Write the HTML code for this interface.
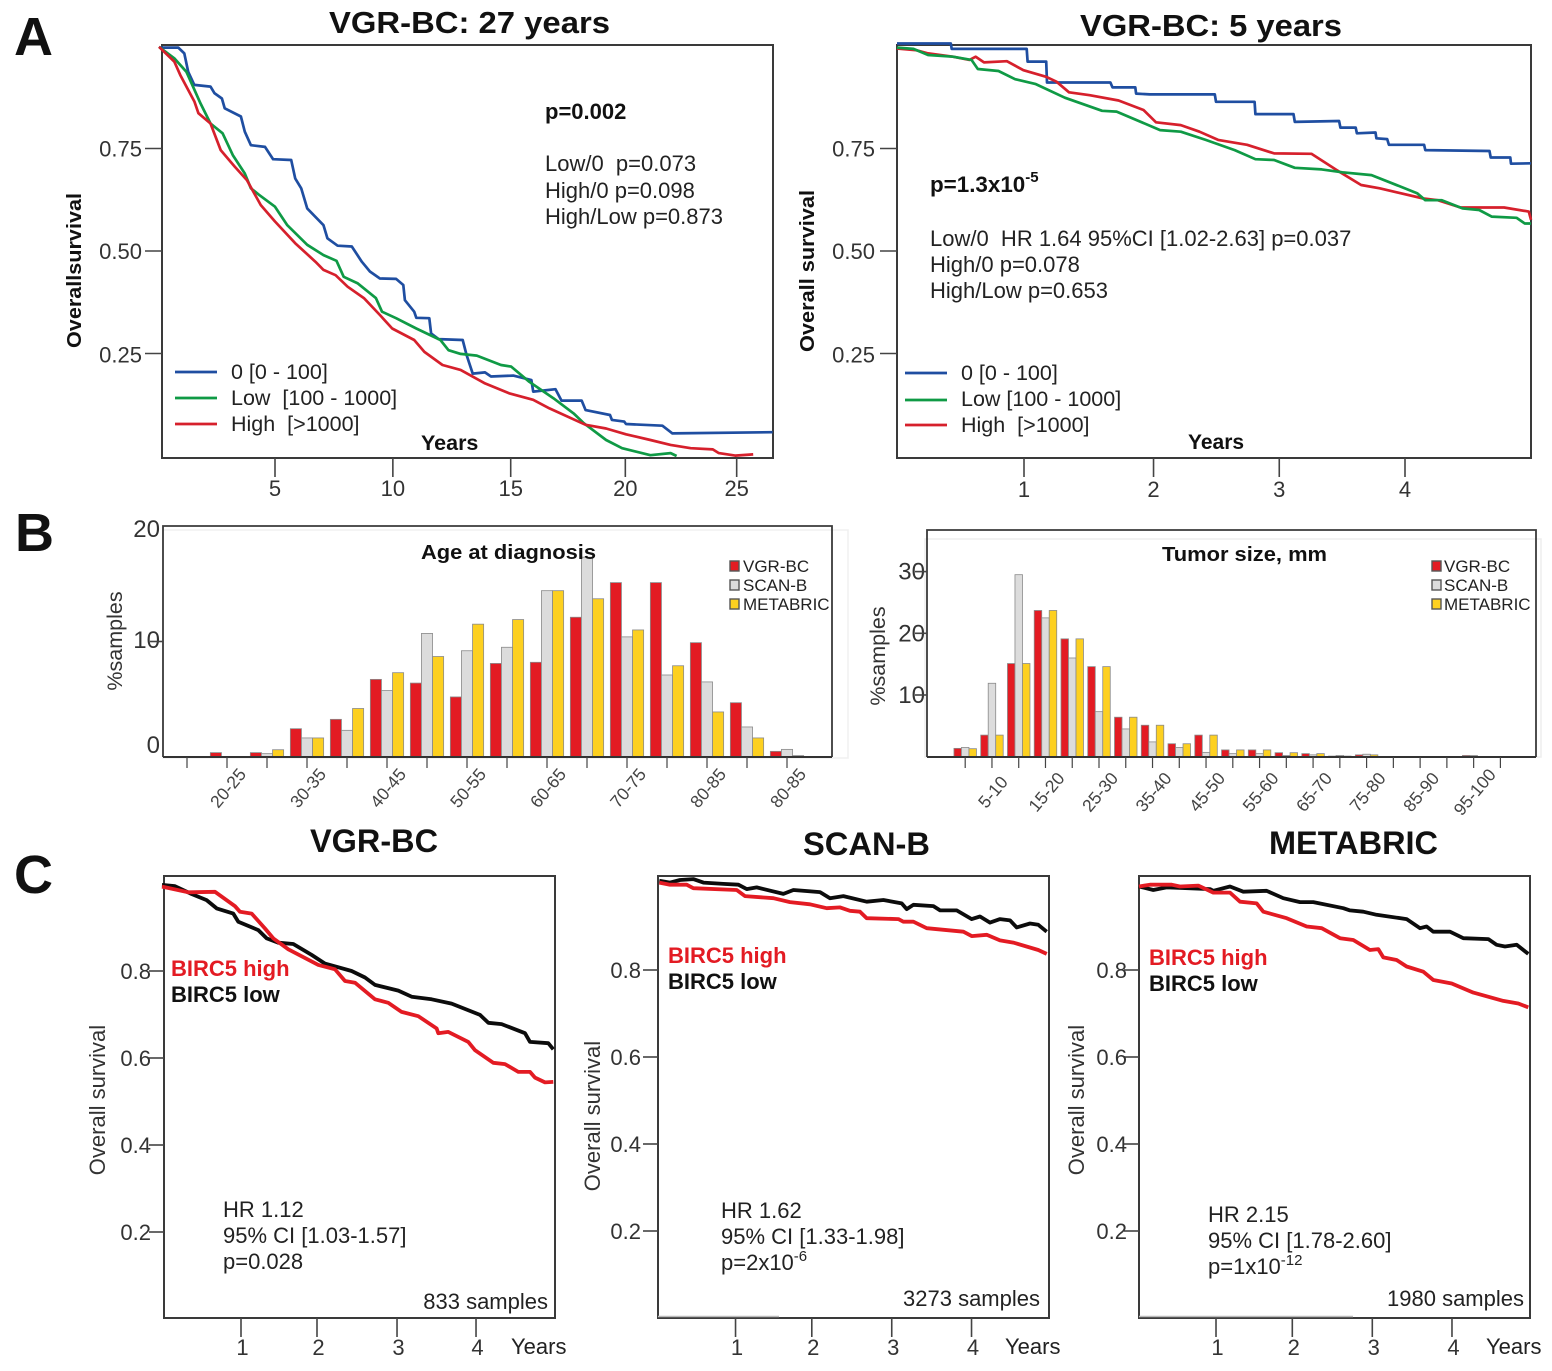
<!DOCTYPE html>
<html lang="en">
<head>
<meta charset="utf-8">
<title>BIRC5 survival figure</title>
<style>
html,body{margin:0;padding:0;background:#fff;}
svg{display:block;font-family:"Liberation Sans",sans-serif;fill:#222;}
.b{font-weight:bold;fill:#111;}
.t{font-size:22px;}
.l{font-size:21.5px;}
.tk{font-size:22px;fill:#333;}
.rot{font-size:17.5px;fill:#444;}
.leg{font-size:17px;fill:#222;}
</style>
</head>
<body>
<svg id="fig" width="1552" height="1371" viewBox="0 0 1552 1371" xmlns="http://www.w3.org/2000/svg">
<rect width="1552" height="1371" fill="#fff"/>

<text x="14" y="55" class="b" style="font-size:54px">A</text>
<text x="15" y="551" class="b" style="font-size:54px">B</text>
<text x="14" y="893" class="b" style="font-size:54px">C</text>

<!-- titles -->
<text x="329" y="33" class="b" style="font-size:31px" textLength="281" lengthAdjust="spacingAndGlyphs">VGR-BC: 27 years</text>
<text x="1080" y="36" class="b" style="font-size:31px" textLength="262" lengthAdjust="spacingAndGlyphs">VGR-BC: 5 years</text>

<!-- backdrop shading of panel B -->
<rect x="163" y="530" width="685" height="228" fill="none" stroke="#f0f0f0" stroke-width="1.5"/>
<rect x="925" y="539" width="616" height="218" fill="none" stroke="#eeeeee" stroke-width="1.5"/>

<g id="marks"></g>

<!-- A left text -->
<text transform="translate(81,270.5) rotate(-90)" x="0" y="0" class="b" style="font-size:20px" textLength="155" lengthAdjust="spacingAndGlyphs" text-anchor="middle">Overallsurvival</text>
<text x="545" y="119" class="b" style="font-size:22px">p=0.002</text>
<text x="545" y="171" class="t" xml:space="preserve">Low/0  p=0.073</text>
<text x="545" y="198" class="t">High/0 p=0.098</text>
<text x="545" y="224" class="t">High/Low p=0.873</text>
<text x="421" y="450" class="b" style="font-size:21.5px">Years</text>
<text x="231" y="379" class="l">0 [0 - 100]</text>
<text x="231" y="405" class="l" xml:space="preserve">Low  [100 - 1000]</text>
<text x="231" y="431" class="l" xml:space="preserve">High  [&gt;1000]</text>

<!-- A right text -->
<text x="807" y="271" class="b" transform="rotate(-90 807 271)" text-anchor="middle" dy="7" style="font-size:20px" textLength="162" lengthAdjust="spacingAndGlyphs">Overall survival</text>
<text x="930" y="192" class="b" style="font-size:22.4px">p=1.3x10<tspan dy="-10" style="font-size:15px">-5</tspan></text>
<text x="930" y="246" class="t" xml:space="preserve">Low/0  HR 1.64 95%CI [1.02-2.63] p=0.037</text>
<text x="930" y="272" class="t">High/0 p=0.078</text>
<text x="930" y="298" class="t">High/Low p=0.653</text>
<text x="1188" y="449" class="b" style="font-size:21px">Years</text>
<text x="961" y="380" class="l">0 [0 - 100]</text>
<text x="961" y="406" class="l" xml:space="preserve">Low [100 - 1000]</text>
<text x="961" y="432" class="l" xml:space="preserve">High  [&gt;1000]</text>

<!-- B text -->
<text x="122" y="641" transform="rotate(-90 122 641)" text-anchor="middle" style="font-size:21.5px;fill:#333">%samples</text>
<text x="421" y="559" class="b" style="font-size:20.5px" textLength="175" lengthAdjust="spacingAndGlyphs">Age at diagnosis</text>
<text x="885" y="656" transform="rotate(-90 885 656)" text-anchor="middle" style="font-size:21.5px;fill:#333">%samples</text>
<text x="1162" y="561" class="b" style="font-size:20.5px" textLength="165" lengthAdjust="spacingAndGlyphs">Tumor size, mm</text>

<!-- C text -->
<text x="310" y="852" class="b" style="font-size:32px" textLength="128" lengthAdjust="spacingAndGlyphs">VGR-BC</text>
<text x="803" y="855" class="b" style="font-size:32px" textLength="127" lengthAdjust="spacingAndGlyphs">SCAN-B</text>
<text x="1269" y="854" class="b" style="font-size:32px" textLength="169" lengthAdjust="spacingAndGlyphs">METABRIC</text>

<text x="171" y="976" class="b" style="font-size:22px;fill:#e31b23">BIRC5 high</text>
<text x="171" y="1002" class="b" style="font-size:22px">BIRC5 low</text>
<text x="668" y="963" class="b" style="font-size:22px;fill:#e31b23">BIRC5 high</text>
<text x="668" y="989" class="b" style="font-size:22px">BIRC5 low</text>
<text x="1149" y="965" class="b" style="font-size:22px;fill:#e31b23">BIRC5 high</text>
<text x="1149" y="991" class="b" style="font-size:22px">BIRC5 low</text>

<text x="105" y="1100" transform="rotate(-90 105 1100)" text-anchor="middle" style="font-size:22px;fill:#333">Overall survival</text>
<text x="600" y="1116" transform="rotate(-90 600 1116)" text-anchor="middle" style="font-size:22px;fill:#333">Overall survival</text>
<text x="1084" y="1100" transform="rotate(-90 1084 1100)" text-anchor="middle" style="font-size:22px;fill:#333">Overall survival</text>

<text x="223" y="1217" class="t">HR 1.12</text>
<text x="223" y="1243" class="t">95% CI [1.03-1.57]</text>
<text x="223" y="1269" class="t">p=0.028</text>
<text x="548" y="1309" class="t" text-anchor="end">833 samples</text>
<text x="511" y="1354" class="t">Years</text>

<text x="721" y="1218" class="t">HR 1.62</text>
<text x="721" y="1244" class="t">95% CI [1.33-1.98]</text>
<text x="721" y="1270" class="t">p=2x10<tspan dy="-9" style="font-size:15px">-6</tspan></text>
<text x="1040" y="1306" class="t" text-anchor="end">3273 samples</text>
<text x="1005" y="1354" class="t">Years</text>

<text x="1208" y="1222" class="t">HR 2.15</text>
<text x="1208" y="1248" class="t">95% CI [1.78-2.60]</text>
<text x="1208" y="1274" class="t">p=1x10<tspan dy="-9" style="font-size:15px">-12</tspan></text>
<text x="1524" y="1306" class="t" text-anchor="end">1980 samples</text>
<text x="1486" y="1354" class="t">Years</text>
</svg>

<script>
// ---------- Panel A, 27-year follow-up ----------
const a27ZeroYears=[0,.83,1.09,1.26,1.52,2.22,2.39,2.71,2.83,3.53,3.70,3.96,4.57,4.92,5.70,5.87,6.13,6.39,7.09,7.26,7.70,8.31,8.74,9.09,9.52,10.22,10.53,10.60,11.0,11.09,11.65,11.73,12.05,13.09,13.26,13.52,14.05,14.31,15.27,16.05,16.13,17.09,17.35,18.22,18.39,19.44,19.52,20.05,20.13,21.70,22.13,26.45];
const a27ZeroSurv=[.996,.996,.982,.937,.905,.901,.885,.872,.848,.828,.791,.758,.754,.724,.722,.677,.653,.604,.563,.531,.513,.511,.474,.450,.433,.432,.417,.380,.352,.337,.336,.299,.285,.283,.246,.201,.204,.194,.196,.185,.157,.163,.135,.135,.112,.100,.088,.084,.078,.074,.055,.058];
const a27LowYears=[0,.66,1.18,1.53,1.79,2.22,2.74,3.18,3.70,3.96,4.31,5.0,5.53,6.39,7.09,7.65,7.96,8.57,9.35,9.61,10.22,11.09,12.13,12.48,13.0,13.70,14.74,15.18,15.96,17.0,17.87,18.31,19.27,19.96,21.18,22.05,22.31];
const a27LowSurv=[.998,.970,.937,.893,.860,.811,.787,.734,.689,.653,.637,.608,.563,.515,.490,.476,.437,.421,.385,.352,.336,.311,.283,.258,.249,.245,.222,.218,.181,.141,.104,.080,.039,.019,.002,.007,0];
const a27HighYears=[0,.66,.92,1.53,1.70,2.22,2.66,3.26,3.79,4.39,5.0,5.87,6.74,7.09,7.61,8.13,8.83,9.52,10.05,11.0,11.44,12.22,13.0,14.05,15.09,16.13,16.83,18.39,19.27,20.13,21.18,22.05,22.92,23.87,24.13,24.83,25.61];
const a27HighSurv=[.998,.962,.929,.864,.836,.811,.746,.706,.673,.612,.572,.519,.474,.454,.441,.413,.385,.344,.311,.283,.254,.222,.210,.177,.153,.137,.116,.076,.067,.053,.039,.027,.019,.016,.007,.001,.004];
const a27XTicks=[5,10.08,15.16,20.1,24.9];
const a27XLabels=['5','10','15','20','25'];
const aYTicks=[.75,.5,.25];
const aYLabels=['0.75','0.50','0.25'];

// ---------- Panel A, 5-year follow-up ----------
const a5ZeroYears=[0,.424,.431,1.021,1.028,1.175,1.181,1.680,1.697,1.876,1.883,1.990,2.502,2.512,2.816,2.822,3.122,3.132,3.481,3.491,3.612,3.621,3.768,3.775,3.860,3.873,4.150,4.160,4.665,4.675,4.829,4.835,4.992];
const a5ZeroSurv=[1.006,1.006,.993,.993,.962,.962,.911,.911,.899,.899,.884,.882,.882,.864,.864,.834,.834,.815,.817,.801,.801,.787,.789,.775,.773,.759,.759,.746,.744,.728,.728,.713,.714];
const a5LowYears=[0,.130,.245,.440,.587,.636,.799,.930,1.093,1.321,1.615,1.729,2.072,2.235,2.431,2.659,2.822,2.969,3.132,3.344,3.507,3.736,4.095,4.160,4.290,4.453,4.584,4.682,4.878,4.943,4.992];
const a5LowSurv=[.996,.993,.978,.974,.966,.944,.939,.919,.907,.874,.842,.840,.795,.791,.771,.746,.724,.722,.703,.699,.692,.685,.641,.624,.624,.604,.600,.584,.581,.567,.567];
const a5HighYears=[0,.147,.245,.440,.571,.620,.685,.865,.995,1.175,1.256,1.354,1.517,1.745,1.941,2.039,2.235,2.382,2.528,2.757,2.969,3.263,3.458,3.654,3.801,4.144,4.258,4.437,4.780,4.975,4.992];
const a5HighSurv=[.994,.990,.982,.974,.966,.974,.960,.963,.941,.925,.913,.887,.880,.867,.844,.814,.807,.791,.771,.759,.738,.737,.698,.661,.653,.628,.624,.606,.606,.596,.576];
const a5XTicks=[1,2.02,3.01,4];
const a5XLabels=['1','2','3','4'];

// ---------- Panel B, age histogram ----------
const ageCategories=['15-20','20-25','25-30','30-35','35-40','40-45','45-50','50-55','55-60','60-65','65-70','70-75','75-80','80-85','85-90'];
const ageVgr=[.38,.38,2.45,3.26,6.72,6.4,5.2,8.1,8.2,12.1,15.1,15.1,9.9,4.7,.49];
const ageScan=[0,.29,1.65,2.31,5.75,10.7,9.2,9.5,14.4,17.3,10.4,7.1,6.5,2.6,.66];
const ageMetabric=[0,.63,1.65,4.2,7.3,8.7,11.5,11.9,14.4,13.7,11.0,7.9,3.9,1.65,.12];
const ageTickLabels=['20-25','30-35','40-45','50-55','60-65','70-75','80-85','80-85'];
const ageYTicks=[20,10,0];

// ---------- Panel B, tumor size histogram ----------
const sizeCategories=['0-5','5-10','10-15','15-20','20-25','25-30','30-35','35-40','40-45','45-50','50-55','55-60','60-65','65-70','70-75','75-80','80-85','85-90','90-95','95-100','100+'];
const sizeVgr=[1.35,3.5,15.1,23.7,19.1,14.6,6.4,5.1,2.1,3.5,1.1,1.1,.65,.5,.1,.3,0,0,0,.2,0];
const sizeScan=[1.5,11.9,29.5,22.5,16.0,7.3,4.5,2.4,1.5,.7,.5,.5,.2,.3,.2,.4,0,0,0,.2,0];
const sizeMetabric=[1.3,3.5,15.1,23.7,19.1,14.6,6.4,5.1,2.1,3.5,1.1,1.1,.65,.5,.1,.3,0,0,0,0,0];
const sizeTickLabels=['5-10','15-20','25-30','35-40','45-50','55-60','65-70','75-80','85-90','95-100'];
const sizeYTicks=[30,20,10];

// ---------- Panel C ----------
const vgrLowYears=[0,.164,.375,.565,.692,.903,.966,1.219,1.325,1.472,1.662,1.894,2.063,2.400,2.569,2.696,2.991,3.160,3.413,3.666,4.025,4.130,4.299,4.595,4.658,4.890,4.953];
const vgrLowSurv=[.998,.995,.977,.963,.944,.932,.913,.894,.875,.865,.862,.837,.817,.800,.785,.768,.755,.741,.735,.725,.699,.681,.678,.657,.637,.634,.620];
const vgrHighYears=[0,.333,.671,.924,.987,1.135,1.303,1.409,1.599,1.979,2.190,2.316,2.443,2.696,2.865,3.033,3.244,3.476,3.498,3.624,3.877,3.962,4.194,4.342,4.510,4.658,4.722,4.848,4.953];
const vgrHighSurv=[.994,.981,.982,.949,.936,.932,.898,.875,.850,.814,.804,.777,.773,.735,.727,.706,.696,.668,.657,.660,.637,.618,.589,.586,.568,.568,.555,.544,.545];
const scanLowYears=[.03,.166,.294,.464,.592,.848,1.039,1.146,1.273,1.614,1.742,2.082,2.210,2.380,2.678,2.891,3.125,3.189,3.274,3.530,3.615,3.828,4.019,4.125,4.253,4.381,4.509,4.594,4.764,4.870,4.977];
const scanLowSurv=[1.005,1.001,1.007,1.009,1.001,.998,.996,.986,.990,.975,.984,.979,.965,.970,.957,.961,.953,.940,.950,.947,.937,.937,.917,.923,.909,.917,.914,.898,.907,.904,.888];
const scanHighYears=[.03,.166,.379,.464,1.018,1.124,1.486,1.699,1.954,2.167,2.338,2.465,2.593,2.678,3.083,3.146,3.274,3.444,3.913,4.019,4.211,4.381,4.551,4.870,4.977];
const scanHighSurv=[1.001,.996,.996,.988,.984,.970,.965,.956,.951,.942,.944,.936,.934,.919,.917,.911,.911,.896,.888,.878,.881,.868,.863,.846,.837];
const metaLowYears=[0,.182,.352,.904,.947,1.159,1.329,1.626,1.838,2.051,2.221,2.603,2.688,2.857,3.027,3.409,3.579,3.664,3.749,3.962,4.131,4.450,4.556,4.662,4.811,4.959];
const metaLowSurv=[.992,.984,.990,.986,.982,.992,.980,.982,.965,.956,.956,.942,.937,.934,.927,.917,.896,.900,.888,.888,.873,.871,.858,.854,.858,.837];
const metaHighYears=[0,.140,.416,.522,.755,.947,1.159,1.286,1.499,1.584,1.881,2.136,2.327,2.560,2.730,2.942,3.048,3.112,3.282,3.409,3.622,3.749,3.983,4.259,4.641,4.832,4.959];
const metaHighSurv=[.992,.996,.996,.992,.994,.978,.978,.957,.953,.934,.919,.900,.896,.873,.869,.846,.848,.829,.823,.808,.796,.777,.769,.748,.729,.723,.714];
const vgrXTicks=[1,1.962,2.975,3.975];
const scanXTicks=[1.003,1.977,2.998,4.017];
const metaXTicks=[.981,1.953,2.972,3.987];
const cXLabels=['1','2','3','4'];
const cYTicks=[.8,.6,.4,.2];
const cYLabels=['0.8','0.6','0.4','0.2'];

const SVGNS='http://www.w3.org/2000/svg';
const root=document.getElementById('marks');

function mk(tag,attrs,name){
  const el=document.createElementNS(SVGNS,tag);
  for(const k in attrs){el.setAttribute(k,attrs[k]);}
  
  
  root.appendChild(el);
  return el;
}
function line(x1,y1,x2,y2,name,color,w){
  return mk('line',{x1:x1,y1:y1,x2:x2,y2:y2,stroke:color||'#444','stroke-width':w||1.6},name);
}
function label(x,y,str,cls,anchor,name,extra){
  const el=mk('text',Object.assign({x:x,y:y,class:cls,'text-anchor':anchor},extra||{}),name);
  el.textContent=str;
  return el;
}
function frame(x,y,w,h,name){
  return mk('rect',{x:x,y:y,width:w,height:h,fill:'none',stroke:'#3a3a3a','stroke-width':2},name);
}
function curve(xs,ys,sx,sy,color,w,name){
  const pts=xs.map(function(t,i){return sx(t).toFixed(1)+','+sy(ys[i]).toFixed(1);}).join(' ');
  return mk('polyline',{points:pts,fill:'none',stroke:color,'stroke-width':w,'stroke-linejoin':'round'},name);
}

// Panel A axes
const BLUE='#1f4ea1',GREEN='#0f9a45',RED='#d6202c';
const saY=function(s){return 456-410*s;};
const a27X=function(t){return 159+23.2*t;};
const a5X=function(t){return 897+127*t;};

frame(162,45,611,413,'frame-27y');
frame(897,45,634,413,'frame-5y');

aYTicks.forEach(function(v,i){
  const dy=v===.25?9:8;
  line(145,saY(v),162,saY(v),'y-tick-27y');
  label(142,saY(v)+dy,aYLabels[i],'tk','end','y-tick-label-27y');
  line(880,saY(v),897,saY(v),'y-tick-5y');
  label(875,saY(v)+dy,aYLabels[i],'tk','end','y-tick-label-5y');
});
a27XTicks.forEach(function(v,i){
  line(a27X(v),458,a27X(v),477,'x-tick-27y');
  label(a27X(v),496,a27XLabels[i],'tk','middle','x-tick-label-27y');
});
a5XTicks.forEach(function(v,i){
  line(a5X(v),458,a5X(v),477,'x-tick-5y');
  label(a5X(v),497,a5XLabels[i],'tk','middle','x-tick-label-5y');
});
curve(a27ZeroYears,a27ZeroSurv,a27X,saY,BLUE,2.7,'curve-zero-27y');
curve(a27LowYears,a27LowSurv,a27X,saY,GREEN,2.7,'curve-low-27y');
curve(a27HighYears,a27HighSurv,a27X,saY,RED,2.7,'curve-high-27y');
curve(a5ZeroYears,a5ZeroSurv,a5X,saY,BLUE,2.7,'curve-zero-5y');
curve(a5HighYears,a5HighSurv,a5X,saY,RED,2.7,'curve-high-5y');
curve(a5LowYears,a5LowSurv,a5X,saY,GREEN,2.7,'curve-low-5y');

[[372,BLUE,'zero'],[398,GREEN,'low'],[424,RED,'high']].forEach(function(r){
  line(175,r[0],217,r[0],'legend-line-'+r[2]+'-27y',r[1],2.7);
});
[[373,BLUE,'zero'],[400,GREEN,'low'],[425,RED,'high']].forEach(function(r){
  line(905,r[0],947,r[0],'legend-line-'+r[2]+'-5y',r[1],2.7);
});

// Panel B
const BAR=['#e31b23','#dcdcdc','#fdd020'];
const BARNAME=['vgr-bc','scan-b','metabric'];
function hist(cfg){
  const series=cfg.series;
  series.forEach(function(vals,j){
    vals.forEach(function(v,i){
      if(v<=0){return;}
      const x=cfg.cx(i)+(j-1.5)*cfg.bw;
      const el=mk('rect',{x:x,y:cfg.y(v),width:cfg.bw,height:cfg.y(0)-cfg.y(v),fill:BAR[j],stroke:'#8a8a8a','stroke-width':.8},'bar-'+BARNAME[j]+'-'+cfg.cats[i]);
      el.setAttribute('data-value',v);
    });
  });
}
const ageX=function(i){return 227+40*i;};
const ageY=function(v){return 757-11.55*v;};
const sizeX=function(i){return 965.2+26.76*i;};
const sizeY=function(v){return 756.7-6.17*v;};

hist({series:[ageVgr,ageScan,ageMetabric],cats:ageCategories,cx:ageX,y:ageY,bw:11.1});
hist({series:[sizeVgr,sizeScan,sizeMetabric],cats:sizeCategories,cx:sizeX,y:sizeY,bw:7.5});

mk('polyline',{points:'163,757 163,526 832,526 832,757',fill:'none',stroke:'#3a3a3a','stroke-width':1.8},'frame-age');
line(163,757,832,757,'x-axis-age','#333',2);
mk('polyline',{points:'927,757 927,530 1536,530 1536,757',fill:'none',stroke:'#3a3a3a','stroke-width':1.8},'frame-size');
line(927,757,1536,757,'x-axis-size','#333',2);

const ageYBase=[537,648,753];
ageYTicks.forEach(function(v,i){
  label(160,ageYBase[i],String(v),'tk','end','y-tick-label-age',{style:'font-size:24px'});
  if(v===10){line(150,ageY(v),163,ageY(v),'y-tick-age');}
});
sizeYTicks.forEach(function(v){
  label(925,sizeY(v)+8,String(v),'tk','end','y-tick-label-size',{style:'font-size:24px'});
  line(915,sizeY(v),927,sizeY(v),'y-tick-size');
});
for(let i=-1;i<ageCategories.length;i++){
  line(ageX(i),757,ageX(i),768,'x-tick-age','#444',1.2);
}
ageTickLabels.forEach(function(s,k){
  const x=ageX(2*k)+1;
  label(x,794,s,'rot','middle','x-tick-label-age',{transform:'rotate(-50 '+x+' 788)'});
});
for(let i=0;i<sizeCategories.length;i++){
  line(sizeX(i),757,sizeX(i),768,'x-tick-size','#444',1.2);
}
sizeTickLabels.forEach(function(s,k){
  const x=sizeX(1+2*k)+1;
  label(x,798,s,'rot','middle','x-tick-label-size',{transform:'rotate(-50 '+x+' 792)'});
});

// histogram legends
const legendNames=['VGR-BC','SCAN-B','METABRIC'];
legendNames.forEach(function(n,j){
  const y=[561,580,599][j];
  mk('rect',{x:730,y:y,width:9,height:10,fill:BAR[j],stroke:'#555','stroke-width':1.4},'legend-swatch-age-'+BARNAME[j]);
  label(743,y+11,n,'leg','start','legend-label-age-'+BARNAME[j]);
  mk('rect',{x:1432,y:y,width:9,height:10,fill:BAR[j],stroke:'#555','stroke-width':1.4},'legend-swatch-size-'+BARNAME[j]);
  label(1444,y+11,n,'leg','start','legend-label-size-'+BARNAME[j]);
});

// Panel C
function cPanel(cfg){
  const sx=function(t){return cfg.x0+cfg.pxYear*t;};
  const sy=function(s){return cfg.y8+(.8-s)*435;};
  frame(cfg.left,876,391,442,'frame-'+cfg.id);
  cYTicks.forEach(function(v,i){
    line(cfg.left-15,sy(v),cfg.left,sy(v),'y-tick-'+cfg.id);
    label(cfg.left-cfg.labelGap,sy(v)+8,cYLabels[i],'tk','end','y-tick-label-'+cfg.id);
  });
  cfg.xTicks.forEach(function(v,i){
    line(sx(v),1318,sx(v),1337,'x-tick-'+cfg.id);
    label(sx(v)+1.5,1355,cXLabels[i],'tk','middle','x-tick-label-'+cfg.id);
  });
  curve(cfg.lowT,cfg.lowS,sx,sy,'#0c0c0c',3.8,'curve-low-'+cfg.id);
  curve(cfg.highT,cfg.highS,sx,sy,'#e31b23',3.8,'curve-high-'+cfg.id);
}
cPanel({id:'vgr',left:164,x0:162,pxYear:79,y8:971,labelGap:13,xTicks:vgrXTicks,lowT:vgrLowYears,lowS:vgrLowSurv,highT:vgrHighYears,highS:vgrHighSurv});
cPanel({id:'scan',left:658,x0:657,pxYear:78.3,y8:970,labelGap:17,xTicks:scanXTicks,lowT:scanLowYears,lowS:scanLowSurv,highT:scanHighYears,highS:scanHighSurv});
cPanel({id:'metabric',left:1139,x0:1139,pxYear:78.5,y8:970,labelGap:12,xTicks:metaXTicks,lowT:metaLowYears,lowS:metaLowSurv,highT:metaHighYears,highS:metaHighSurv});
line(658,1316.5,779,1316.5,'frame-smudge-scan','#bbbbbb',1.5);
line(1139,1316.5,1353,1316.5,'frame-smudge-metabric','#bbbbbb',1.5);
</script>
</body>
</html>
